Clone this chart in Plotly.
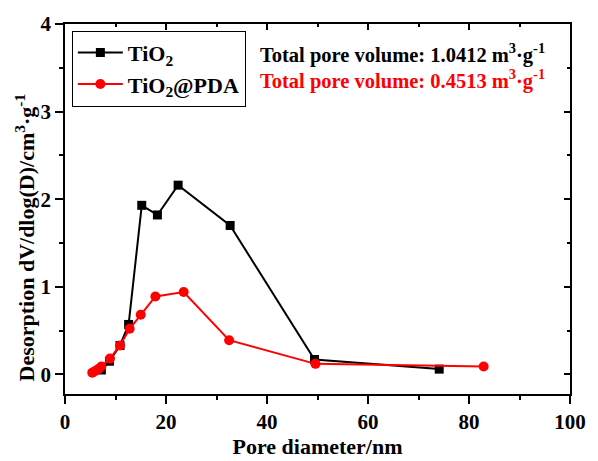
import plotly.graph_objects as go

tio2_x = [7.2, 8.8, 10.9, 12.6, 15.2, 18.3, 22.4, 32.7, 49.4, 74.1]
tio2_y = [0.05, 0.15, 0.33, 0.57, 1.93, 1.82, 2.16, 1.70, 0.17, 0.06]
pda_x = [5.4, 6.0, 6.6, 7.2, 8.9, 10.9, 12.8, 15.0, 17.9, 23.5, 32.5, 49.6, 82.9]
pda_y = [0.02, 0.04, 0.06, 0.09, 0.18, 0.33, 0.52, 0.68, 0.89, 0.94, 0.39, 0.12, 0.09]

x_ticks = [0, 20, 40, 60, 80, 100]
y_ticks = [0, 1, 2, 3, 4]

FONT = "Liberation Serif"
fig = go.Figure()
fig.add_trace(go.Scatter(x=tio2_x, y=tio2_y, mode="lines+markers", name="<b>TiO<sub>2</sub></b>",
                         line=dict(color="black", width=2),
                         marker=dict(symbol="square", size=9, color="black")))
fig.add_trace(go.Scatter(x=pda_x, y=pda_y, mode="lines+markers", name="<b>TiO<sub>2</sub>@PDA</b>",
                         line=dict(color="red", width=2),
                         marker=dict(symbol="circle", size=10, color="red")))
# invisible trace for mirror axes
fig.add_trace(go.Scatter(x=[0], y=[0], xaxis="x2", yaxis="y2", mode="markers",
                         marker=dict(opacity=0), showlegend=False, hoverinfo="skip"))

TICKFONT = dict(family=FONT, size=21, color="black", weight=700)
axis_common = dict(showgrid=False, zeroline=False, showline=True, linecolor="black", linewidth=1.5,
                   tickfont=TICKFONT, tickcolor="black", tickwidth=1.5)
YR = [-0.224, 4]
fig.update_layout(
    width=598, height=461,
    margin=dict(l=65, r=19, t=20, b=58),
    plot_bgcolor="white", paper_bgcolor="white",
    font=dict(family=FONT, color="black"),
    xaxis=dict(range=[0, 100], tickvals=x_ticks, ticktext=[f"<b>{v}</b>" for v in x_ticks],
               ticks="outside", ticklen=8,
               minor=dict(dtick=10, ticks="outside", ticklen=4, tickcolor="black", tickwidth=1.5),
               title=dict(text="<b>Pore diameter/nm</b>", font=dict(family=FONT, size=22), standoff=0),
               **axis_common),
    yaxis=dict(range=YR, tickvals=y_ticks, ticktext=[f"<b>{v}</b>" for v in y_ticks],
               ticks="outside", ticklen=8,
               minor=dict(tickvals=[0.5, 1.5, 2.5, 3.5], ticks="outside", ticklen=4, tickcolor="black", tickwidth=1.5),
               **axis_common),
    xaxis2=dict(overlaying="x", side="top", anchor="y", range=[0, 100], tickvals=x_ticks, ticks="inside", ticklen=6,
                showticklabels=False, showgrid=False, zeroline=False, showline=True, linecolor="black",
                linewidth=1.5, tickcolor="black", tickwidth=1.5,
                minor=dict(dtick=10, ticks="inside", ticklen=3, tickcolor="black", tickwidth=1.5)),
    yaxis2=dict(overlaying="y", side="right", anchor="x", range=YR, tickvals=y_ticks, ticks="inside",
                ticklen=6, showticklabels=False, showgrid=False, zeroline=False, showline=True, linecolor="black",
                linewidth=1.5, tickcolor="black", tickwidth=1.5,
                minor=dict(tickvals=[0.5, 1.5, 2.5, 3.5], ticks="inside", ticklen=3, tickcolor="black", tickwidth=1.5)),
    legend=dict(x=0.0136, y=0.982, xanchor="left", yanchor="top", bordercolor="black", borderwidth=1,
                bgcolor="white", font=dict(family=FONT, size=22, color="black"), tracegroupgap=0,
                itemwidth=45),
    showlegend=True,
)
fig.add_annotation(x=0, y=0.423, xref="paper", yref="paper", xshift=-40, textangle=-90,
                   xanchor="center", yanchor="middle", showarrow=False,
                   text="<b>Desorption dV/dlog(D)/cm<sup>3</sup>·g<sup>-1</sup></b>",
                   font=dict(family=FONT, size=22, color="black"))
fig.add_annotation(x=0.383, y=0.919, xref="paper", yref="paper", xanchor="left", yanchor="middle", showarrow=False,
                   text="<b>Total pore volume: 1.0412 m<sup>3</sup>·g<sup>-1</sup></b>",
                   font=dict(family=FONT, size=20.5, color="black"))
fig.add_annotation(x=0.383, y=0.849, xref="paper", yref="paper", xanchor="left", yanchor="middle", showarrow=False,
                   text="<b>Total pore volume: 0.4513 m<sup>3</sup>·g<sup>-1</sup></b>",
                   font=dict(family=FONT, size=20.5, color="red"))
fig.write_html("out.html")
